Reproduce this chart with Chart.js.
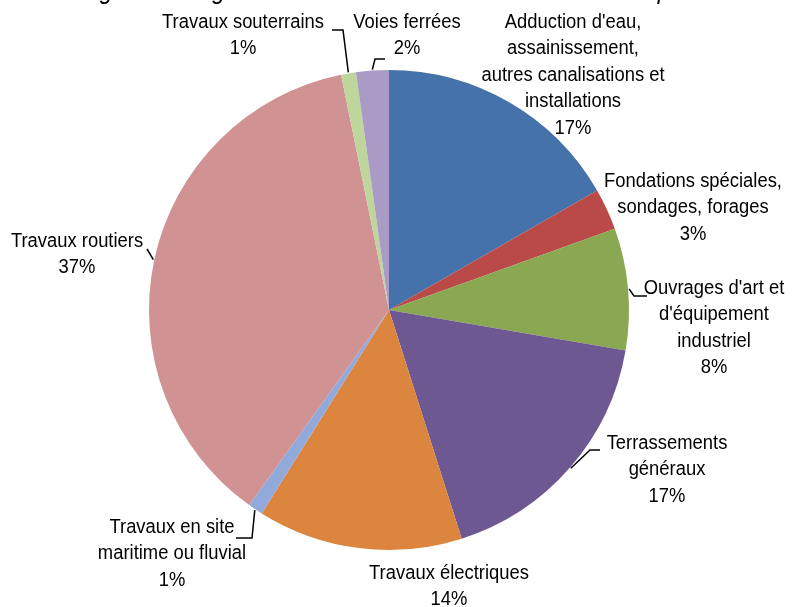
<!DOCTYPE html>
<html lang="fr">
<head>
<meta charset="utf-8">
<title>Segmentation des travaux publics</title>
<script src="https://cdn.jsdelivr.net/npm/chart.js@4.4.1/dist/chart.umd.min.js"></script>
<style>
  html, body { margin: 0; padding: 0; background: #fff; }
  #wrap { width: 794px; height: 607px; position: relative; overflow: hidden; }
</style>
</head>
<body>
<div id="wrap"><canvas id="pieChart" width="794" height="607"></canvas></div>
<script>
const labels = [
  "Adduction d'eau,\nassainissement,\nautres canalisations et\ninstallations",
  "Fondations spéciales,\nsondages, forages",
  "Ouvrages d'art et\nd'équipement\nindustriel",
  "Terrassements\ngénéraux",
  "Travaux électriques",
  "Travaux en site\nmaritime ou fluvial",
  "Travaux routiers",
  "Travaux souterrains",
  "Voies ferrées"
];
const shares = [16.7, 2.8, 8.2, 17.4, 13.8, 1.0, 36.9, 1.0, 2.2];
const colors = [
  "#4672ab", "#b94a48", "#8aa851", "#6e5892", "#dc853e",
  "#91aadb", "#d09292", "#bed59b", "#a99bc6"
];
const titleText = "Figure 6 : Segmentation du chiffre d'affaires des travaux publics";

// where each label sits (center x, first line y) and how the leader bends
const labelLayout = [
  { x: 573, y: 22 },
  { x: 693, y: 181 },
  { x: 714, y: 288, leader: [[634, 296], [647, 296]] },
  { x: 667, y: 443, leader: [[590, 450], [600, 450]] },
  { x: 449, y: 573 },
  { x: 172, y: 527, leader: [[252, 538], [236, 538]] },
  { x: 77, y: 241, leader: [[147, 249]] },
  { x: 243, y: 22, leader: [[343, 30], [332, 30]] },
  { x: 407, y: 22, leader: [[375, 59], [385, 59]] }
];

// Arial Narrow look: Liberation Sans squeezed horizontally
const FONT = '20px "Liberation Sans", Arial, sans-serif';
const SQUEEZE = 0.92;
const LINE_H = 26.5;

function narrowText(ctx, t, x, y) {
  ctx.save();
  ctx.translate(x, y);
  ctx.scale(SQUEEZE, 1);
  ctx.fillText(t, 0, 0);
  ctx.restore();
}

const pieLabels = {
  id: "pieLabels",
  afterDraw(chart) {
    const ctx = chart.ctx;
    const arcs = chart.getDatasetMeta(0).data;
    ctx.save();

    // title, mostly cut off at the top like in the source
    ctx.font = 'italic 25px "Liberation Sans", Arial, sans-serif';
    ctx.fillStyle = "#000";
    ctx.textAlign = "center";
    ctx.textBaseline = "alphabetic";
    narrowText(ctx, titleText, 405, -1);

    ctx.font = FONT;
    ctx.textBaseline = "middle";
    ctx.strokeStyle = "#000";
    ctx.lineWidth = 1.5;

    arcs.forEach((arc, i) => {
      const lay = labelLayout[i];
      const pct = Math.round(shares[i]) + "%";
      const lines = labels[i].split("\n").concat([pct]);
      lines.forEach((t, k) => {
        narrowText(ctx, t, lay.x, lay.y + k * LINE_H);
      });

      if (lay.leader) {
        const p = arc.getProps(["x", "y", "startAngle", "endAngle", "outerRadius"], true);
        const mid = (p.startAngle + p.endAngle) / 2;
        const ex = p.x + Math.cos(mid) * (p.outerRadius + 1);
        const ey = p.y + Math.sin(mid) * (p.outerRadius + 1);
        ctx.beginPath();
        ctx.moveTo(ex, ey);
        lay.leader.forEach(pt => ctx.lineTo(pt[0], pt[1]));
        ctx.stroke();
      }
    });
    ctx.restore();
  }
};

new Chart(document.getElementById("pieChart"), {
  type: "pie",
  data: {
    labels: labels,
    datasets: [{
      data: shares,
      backgroundColor: colors,
      borderWidth: 0
    }]
  },
  options: {
    responsive: false,
    animation: false,
    layout: {
      padding: { left: 149, right: 165, top: 70, bottom: 57 }
    },
    plugins: {
      legend: { display: false },
      tooltip: { enabled: false },
      title: { display: false }
    }
  },
  plugins: [pieLabels]
});
</script>
</body>
</html>
